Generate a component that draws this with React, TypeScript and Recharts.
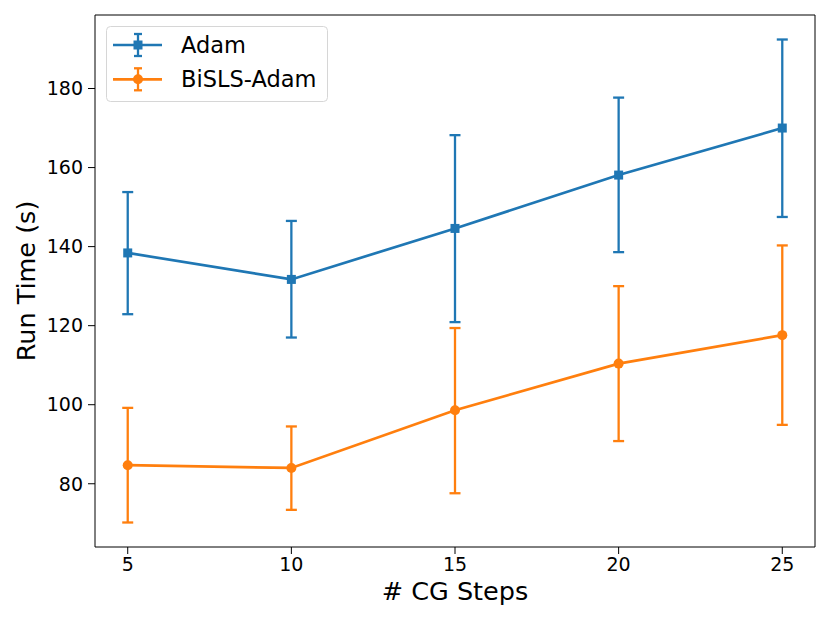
import React from 'react';
import { LineChart, Line, XAxis, YAxis, ErrorBar, Legend } from 'recharts';

const cgSteps = [5, 10, 15, 20, 25];
const adamMean = [138.4, 131.7, 144.6, 158.1, 170.0];
const adamLow = [122.9, 117.0, 120.9, 138.6, 147.5];
const adamHigh = [153.8, 146.5, 168.2, 177.7, 192.4];
const bislsMean = [84.7, 84.0, 98.6, 110.4, 117.6];
const bislsLow = [70.2, 73.4, 77.6, 90.8, 94.9];
const bislsHigh = [99.2, 94.5, 119.4, 130.0, 140.3];

const xTicks = [5, 10, 15, 20, 25];
const yTicks = [80, 100, 120, 140, 160, 180];

const BLUE = '#1f77b4';
const ORANGE = '#ff7f0e';
const FONT = '"DejaVu Sans", sans-serif';

const data = cgSteps.map((x, i) => ({
  x,
  adam: adamMean[i],
  adamErr: [adamMean[i] - adamLow[i], adamHigh[i] - adamMean[i]],
  bisls: bislsMean[i],
  bislsErr: [bislsMean[i] - bislsLow[i], bislsHigh[i] - bislsMean[i]],
}));

const seriesInfo: Record<string, { label: string; color: string; marker: 'square' | 'circle' }> = {
  adam: { label: 'Adam', color: BLUE, marker: 'square' },
  bisls: { label: 'BiSLS-Adam', color: ORANGE, marker: 'circle' },
};

const SquareDot = (props: any) => {
  const { cx, cy, index } = props;
  if (cx == null || cy == null) return <g key={`sq-${index}`} />;
  return <rect key={`sq-${index}`} x={cx - 4.5} y={cy - 4.5} width={9} height={9} fill={BLUE} />;
};

const renderLegend = () => {
  const keys = ['adam', 'bisls'];
  return (
    <svg width={223} height={77} style={{ display: 'block' }}>
      <rect x={0.5} y={0.5} width={221} height={75} rx={4} ry={4} fill="#fff" stroke="#d6d6d6" strokeWidth={1} />
      {keys.map((k, i) => {
        const info = seriesInfo[k];
        const cy = 19 + i * 34.3;
        return (
          <g key={k}>
            <line x1={7} x2={56} y1={cy} y2={cy} stroke={info.color} strokeWidth={2.7} />
            <line x1={32} x2={32} y1={cy - 11} y2={cy + 11} stroke={info.color} strokeWidth={2.3} />
            <line x1={28} x2={36} y1={cy - 11} y2={cy - 11} stroke={info.color} strokeWidth={2.3} />
            <line x1={28} x2={36} y1={cy + 11} y2={cy + 11} stroke={info.color} strokeWidth={2.3} />
            {info.marker === 'square' ? (
              <rect x={27.5} y={cy - 4.5} width={9} height={9} fill={info.color} />
            ) : (
              <circle cx={32} cy={cy} r={5} fill={info.color} />
            )}
            <text x={75} y={cy} dominantBaseline="central" fontFamily={FONT} fontSize={22.5} fill="#000">
              {info.label}
            </text>
          </g>
        );
      })}
    </svg>
  );
};

const YLabel = (props: any) => {
  const vb = props.viewBox || { x: 0, y: 0, width: 95, height: 532 };
  const cx = vb.x + 26;
  const cy = vb.y + vb.height / 2;
  return (
    <text
      x={cx}
      y={cy}
      transform={`rotate(-90 ${cx} ${cy})`}
      textAnchor="middle"
      dominantBaseline="central"
      fontFamily={FONT}
      fontSize={25.5}
      fill="#000"
    >
      Run Time (s)
    </text>
  );
};

const XLabel = (props: any) => {
  const vb = props.viewBox || { x: 95, y: 547, width: 720, height: 76 };
  return (
    <text
      x={vb.x + vb.width / 2}
      y={vb.y + 53}
      textAnchor="middle"
      fontFamily={FONT}
      fontSize={25.5}
      fill="#000"
    >
      # CG Steps
    </text>
  );
};

export default function App() {
  const tickStyle = { fill: '#000', fontSize: 19, fontFamily: FONT, style: { fontSize: 19, fontFamily: FONT } };
  return (
    <div style={{ position: 'absolute', left: 0, top: 0, background: '#fff' }}>
      <LineChart width={830} height={623} data={data} margin={{ top: 14, right: 14, bottom: 0, left: 0 }}>
        <XAxis
          dataKey="x"
          type="number"
          domain={[4, 26]}
          ticks={xTicks}
          allowDataOverflow
          height={76}
          tick={tickStyle}
          tickSize={7}
          tickMargin={4}
          axisLine={{ stroke: '#000', strokeWidth: 1 }}
          tickLine={{ stroke: '#000', strokeWidth: 1 }}
          label={<XLabel />}
        />
        <XAxis
          xAxisId="top"
          orientation="top"
          dataKey="x"
          type="number"
          domain={[4, 26]}
          allowDataOverflow
          height={1}
          tick={false}
          tickLine={false}
          axisLine={{ stroke: '#000', strokeWidth: 1 }}
        />
        <YAxis
          type="number"
          domain={[64, 198.6]}
          ticks={yTicks}
          allowDataOverflow
          width={95}
          tick={tickStyle}
          tickSize={7}
          tickMargin={5}
          axisLine={{ stroke: '#000', strokeWidth: 1 }}
          tickLine={{ stroke: '#000', strokeWidth: 1 }}
          label={<YLabel />}
        />
        <YAxis
          yAxisId="right"
          orientation="right"
          type="number"
          domain={[64, 198.6]}
          allowDataOverflow
          width={1}
          tick={false}
          tickLine={false}
          axisLine={{ stroke: '#000', strokeWidth: 1 }}
        />
        <Legend
          layout="vertical"
          align="center"
          verticalAlign="middle"
          content={renderLegend}
          wrapperStyle={{ left: 106, top: 26, width: 'auto', height: 'auto' }}
        />
        <Line
          dataKey="adam"
          name="Adam"
          stroke={BLUE}
          strokeWidth={2.7}
          dot={SquareDot}
          activeDot={false}
          isAnimationActive={false}
        >
          <ErrorBar dataKey="adamErr" direction="y" width={5.5} stroke={BLUE} strokeWidth={2.3} isAnimationActive={false} />
        </Line>
        <Line
          dataKey="bisls"
          name="BiSLS-Adam"
          stroke={ORANGE}
          strokeWidth={2.7}
          dot={{ r: 5, fill: ORANGE, stroke: ORANGE, strokeWidth: 0 }}
          activeDot={false}
          isAnimationActive={false}
        >
          <ErrorBar dataKey="bislsErr" direction="y" width={5.5} stroke={ORANGE} strokeWidth={2.3} isAnimationActive={false} />
        </Line>
      </LineChart>
    </div>
  );
}
